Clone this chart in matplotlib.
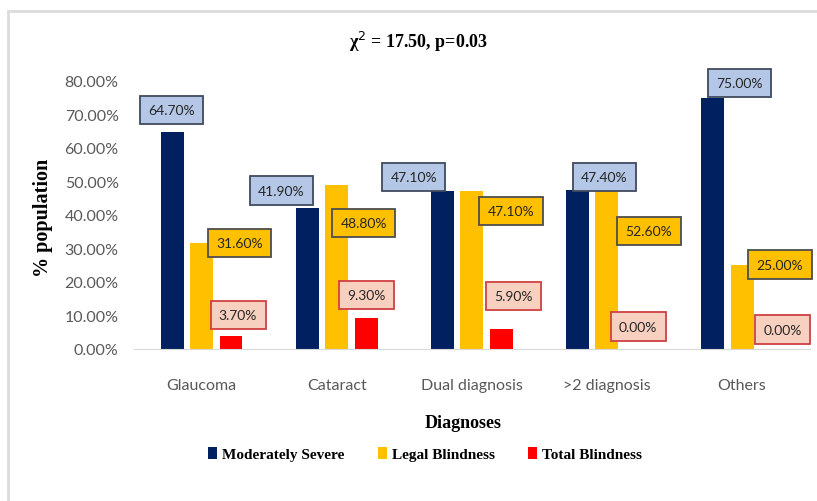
import matplotlib.pyplot as plt
from matplotlib.lines import Line2D
import numpy as np

diagnoses = ["Glaucoma", "Cataract", "Dual diagnosis", ">2 diagnosis", "Others"]
moderately_severe = [64.7, 41.9, 47.1, 47.4, 75.0]
legal_blindness = [31.6, 48.8, 47.1, 52.6, 25.0]
total_blindness = [3.7, 9.3, 5.9, 0.0, 0.0]
series_names = ["Moderately Severe", "Legal Blindness", "Total Blindness"]

# label placement (x offset from category centre, y in %)
navy_lab_dx = [-0.22, -0.41, -0.43, -0.02, -0.02]
navy_lab_y = [71.3, 47.2, 51.3, 51.3, 79.4]
gold_lab_dx = [0.28, 0.20, 0.29, 0.31, 0.28]
gold_lab_y = [31.6, 37.6, 41.2, 35.2, 25.1]
red_lab_dx = [0.27, 0.22, 0.31, 0.23, 0.30]
red_lab_y = [10.1, 16.1, 15.8, 6.6, 5.7]

fig = plt.figure(figsize=(8.17, 5.02), dpi=100)
ax = fig.add_axes([0.164, 0.303, 0.827, 0.534])

x = np.arange(len(diagnoses))
w = 0.17
step = 0.218
colors = ["#002060", "#ffc000", "#ff0000"]
all_vals = [moderately_severe, legal_blindness, total_blindness]
for i, (vals, c, name) in enumerate(zip(all_vals, colors, series_names)):
    ax.bar(x + (i - 1) * step, vals, w, color=c, label=name, zorder=2)

label_styles = [
    dict(fc="#b4c7e7", ec="#404a5e"),
    dict(fc="#ffc000", ec="#4d4d4d"),
    dict(fc="#f8d0c0", ec="#d04040"),
]
lab_dx = [navy_lab_dx, gold_lab_dx, red_lab_dx]
lab_y = [navy_lab_y, gold_lab_y, red_lab_y]
for vals, st, dxs, ys in zip(all_vals, label_styles, lab_dx, lab_y):
    for xi, v, dx, yy in zip(x, vals, dxs, ys):
        ax.text(xi + dx, yy, f"{v:.2f}%", ha="center", va="center",
                fontsize=10, family="Lato", color="#262626", zorder=5,
                clip_on=False,
                bbox=dict(boxstyle="square,pad=0.6", fc=st["fc"],
                          ec=st["ec"], lw=1.3))

ax.set_xlim(-0.5, 4.5)
ax.set_ylim(0, 80)
ax.set_yticks(np.arange(0, 81, 10))
ax.set_yticklabels([f"{t:.2f}%" for t in range(0, 81, 10)])
ax.set_xticks(x)
ax.set_xticklabels(diagnoses)
ax.tick_params(axis="both", length=0, labelsize=11.5, labelcolor="#595959")
ax.tick_params(axis="x", pad=21)
ax.tick_params(axis="y", pad=11)
for lab in ax.get_xticklabels() + ax.get_yticklabels():
    lab.set_family("Lato")
for s in ["top", "right", "left"]:
    ax.spines[s].set_visible(False)
ax.spines["bottom"].set_color("#d9d9d9")

serif = "Liberation Serif"
fig.text(0.512, 1 - 42 / 502, "\u03c7$^2$ = 17.50, p=0.03", ha="center", va="center",
         fontsize=13, fontweight="bold", family=serif)
fig.text(463 / 817, 1 - 423 / 502, "Diagnoses", ha="center", va="center",
         fontsize=13, fontweight="bold", family=serif)
fig.text(43 / 817, 1 - 218 / 502, "% population", rotation=90, ha="center",
         va="center", fontsize=14.5, fontweight="bold", family=serif)

fig.legend(loc="center", bbox_to_anchor=(425 / 817, 1 - 455 / 502), ncol=3,
           frameon=False, handlelength=0.6, handleheight=0.8, handletextpad=0.3,
           columnspacing=2.2, prop=dict(family=serif, weight="bold", size=11))

# light frame lines at the top and left of the picture
fig.add_artist(Line2D([8 / 817, 1], [1 - 12 / 502, 1 - 12 / 502], color="#dcdcdc", lw=2))
fig.add_artist(Line2D([8 / 817, 8 / 817], [0, 1 - 12 / 502], color="#dcdcdc", lw=2))

fig.savefig("out.png", dpi=100)
